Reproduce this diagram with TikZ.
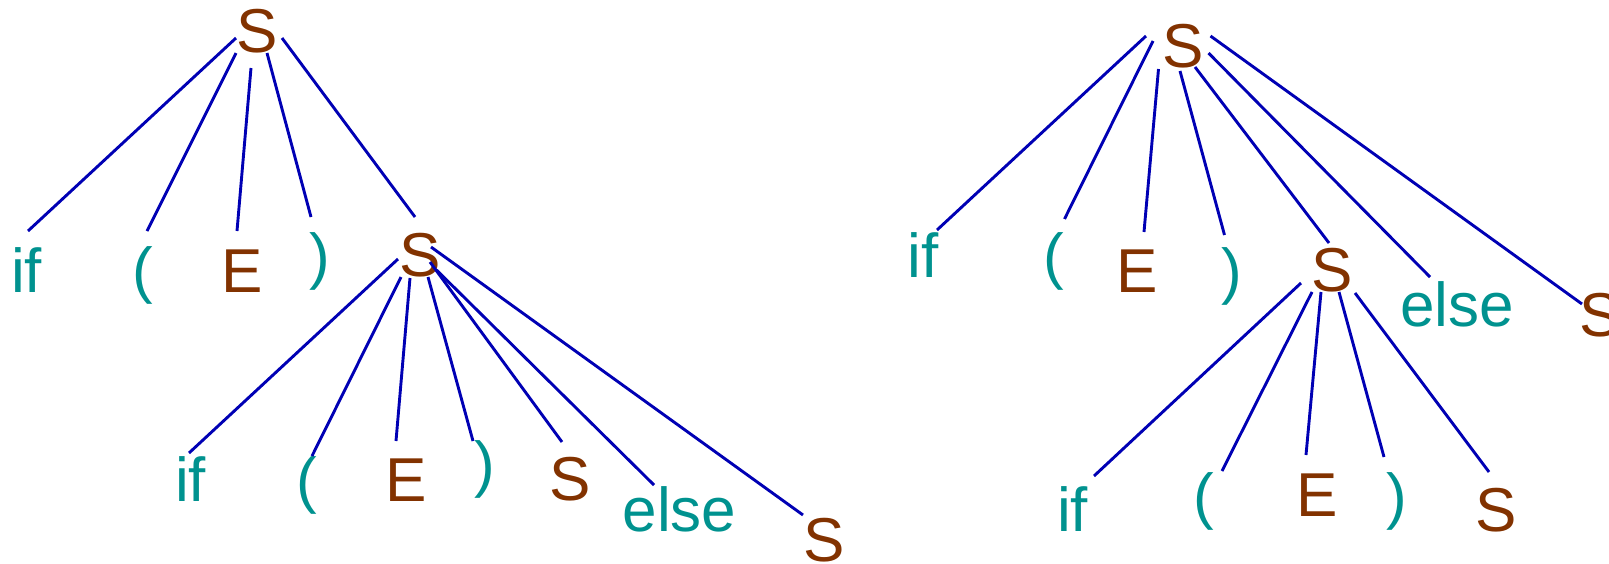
\documentclass[tikz,border=0pt]{standalone}
\usepackage{fontspec}
\setmainfont{Liberation Sans}
\usetikzlibrary{calc}
\definecolor{nt}{HTML}{823200}
\definecolor{tm}{HTML}{00928F}
\definecolor{ln}{HTML}{0000B4}
\newcommand\br[6]{\draw[edge] ($(#1.base)+(#2,#3)$) -- ($(#4.base)+(#5,#6)$);}
\begin{document}
\begin{tikzpicture}[x=1pt,y=-1pt,
  lab/.style={anchor=base,inner sep=0pt,font=\fontsize{62}{70}\selectfont},
  ntl/.style={lab,text=nt},
  tml/.style={lab,text=tm},
  edge/.style={draw=ln,line width=2.9pt}]
\useasboundingbox (0,0) rectangle (1609,563);
% left tree
\node[ntl] (s1) at (257,52) {S};
\node[tml] (if1) at (26.5,292) {if};
\node[tml] (lp1) at (142.5,291) {(};
\node[ntl] (e1) at (242,292) {E};
\node[tml] (rp1) at (320,277) {)};
\node[ntl] (s2) at (420.5,276) {S};
\node[tml] (if2) at (190.5,501) {if};
\node[tml] (lp2) at (307,501) {(};
\node[ntl] (e2) at (406,501) {E};
\node[tml] (rp2) at (485,485) {)};
\node[ntl] (s3) at (570,500) {S};
\node[tml] (else1) at (679.5,531) {else};
\node[ntl] (s4) at (824,561) {S};
% right tree
\node[ntl] (s5) at (1183.5,67) {S};
\node[tml] (if3) at (923,277) {if};
\node[tml] (lp3) at (1053.5,277) {(};
\node[ntl] (e3) at (1137.5,292) {E};
\node[tml] (rp3) at (1231.5,292) {)};
\node[ntl] (s6) at (1332.5,291) {S};
\node[tml] (else2) at (1457,326) {else};
\node[ntl] (s7) at (1600,336) {S};
\node[tml] (if4) at (1072.5,531) {if};
\node[tml] (lp4) at (1203.5,517) {(};
\node[ntl] (e4) at (1317.5,516) {E};
\node[tml] (rp4) at (1396.5,517) {)};
\node[ntl] (s8) at (1496.5,531) {S};
% edges left
\br{s1}{-21}{-14}{if1}{1.5}{-61}
\br{s1}{-21}{1}{lp1}{4.5}{-60}
\br{s1}{-6}{16}{e1}{-5}{-61}
\br{s1}{10}{1}{rp1}{-9}{-60}
\br{s1}{25}{-14}{s2}{-5.5}{-59}
\br{s2}{-22.5}{-17}{if2}{-1.5}{-48}
\br{s2}{-19.5}{1}{lp2}{5}{-45}
\br{s2}{-10.5}{2}{e2}{-10}{-60}
\br{s2}{7.5}{1}{rp2}{-12}{-44}
\br{s2}{9.5}{-14}{s3}{-8}{-58}
\br{s2}{16}{-6}{else1}{-25.5}{-46}
\br{s2}{10.5}{-29}{s4}{-21}{-46}
% edges right
\br{s5}{-37.5}{-31}{if3}{14}{-47}
\br{s5}{-30.5}{-26}{lp3}{11}{-58}
\br{s5}{-25}{2}{e3}{6.5}{-60}
\br{s5}{-3.5}{4}{rp3}{-7}{-57}
\br{s5}{11.5}{0}{s6}{-3.5}{-48}
\br{s5}{25}{-14}{else2}{-27}{-49}
\br{s5}{27}{-31}{s7}{-18}{-32}
\br{s6}{-31.5}{-8}{if4}{21.5}{-55}
\br{s6}{-20.5}{1}{lp4}{18.5}{-46}
\br{s6}{-11.5}{1}{e4}{-11.5}{-61}
\br{s6}{6.5}{1}{rp4}{-12.5}{-60}
\br{s6}{22.5}{2}{s8}{-7.5}{-59}
\end{tikzpicture}
\end{document}
